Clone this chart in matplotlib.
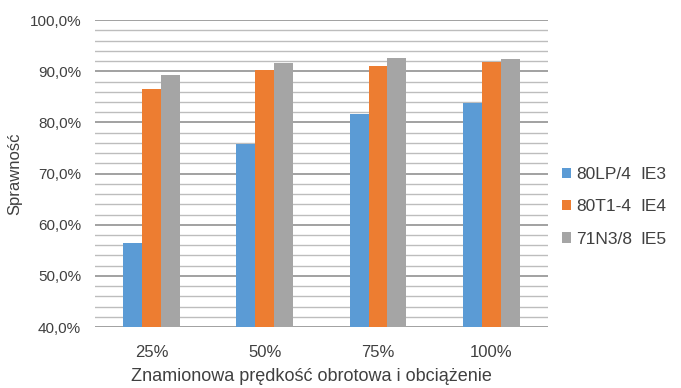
import numpy as np
import matplotlib.pyplot as plt
from matplotlib.ticker import MultipleLocator, FuncFormatter

plt.rcParams['font.family'] = ['Liberation Sans', 'DejaVu Sans']

kategorie = ["25%", "50%", "75%", "100%"]
silniki = ["80LP/4", "80T1-4", "71N3/8"]
klasy = ["IE3", "IE4", "IE5"]
sprawnosc_ie3 = [56.5, 75.7, 81.7, 83.9]
sprawnosc_ie4 = [86.5, 90.3, 91.1, 91.8]
sprawnosc_ie5 = [89.2, 91.6, 92.6, 92.5]
kolory = ["#5B9BD5", "#ED7D31", "#A5A5A5"]
szary = '#404040'

fig = plt.figure(figsize=(6.81, 3.88), dpi=100)
ax = fig.add_axes([0.1395, 0.157, 0.665, 0.791])

x = np.arange(len(kategorie))
w = 0.167
for i, (vals, lab, kol) in enumerate(zip([sprawnosc_ie3, sprawnosc_ie4, sprawnosc_ie5], silniki, kolory)):
    ax.bar(x + (i - 1) * w, vals, w, color=kol, label=lab, zorder=3)

ax.set_ylim(40, 100)
ax.set_xlim(-0.5, len(kategorie) - 0.5)
ax.yaxis.set_major_locator(MultipleLocator(10))
ax.yaxis.set_minor_locator(MultipleLocator(2))
ax.yaxis.set_major_formatter(FuncFormatter(lambda v, p: f"{v:.1f}%".replace(".", ",")))
ax.grid(axis='y', which='major', color='#9a9a9a', linewidth=1.3, zorder=0)
ax.grid(axis='y', which='minor', color='#bdbdbd', linewidth=1.0, zorder=0)
ax.tick_params(axis='both', which='both', length=0, colors=szary)
ax.tick_params(axis='y', labelsize=11, pad=10)
ax.tick_params(axis='x', labelsize=12, pad=13)
ax.set_xticks(x)
ax.set_xticklabels(kategorie)
for s in ax.spines.values():
    s.set_visible(False)

ax.set_xlabel("Znamionowa prędkość obrotowa i obciążenie", fontsize=13, color=szary)
ax.xaxis.set_label_coords(0.479, -0.133)
ax.set_ylabel("Sprawność", fontsize=12, color=szary)
ax.yaxis.set_label_coords(-0.16, 0.5)

leg = fig.legend(loc='center left', bbox_to_anchor=(0.802, 0.467), frameon=False,
                 fontsize=12.5, handlelength=0.55, handleheight=0.55, handletextpad=0.3,
                 labelspacing=1.0, labelcolor=szary)

# klasy sprawności w równej kolumnie obok opisów legendy
fig.canvas.draw()
inv = fig.transFigure.inverted()
for t, k in zip(leg.get_texts(), klasy):
    bb = t.get_window_extent()
    yc = inv.transform((0, (bb.y0 + bb.y1) / 2))[1]
    fig.text(640 / 681, yc, k, fontsize=12.5, color=szary, va='center', ha='left')

fig.savefig("out.png", dpi=100)
